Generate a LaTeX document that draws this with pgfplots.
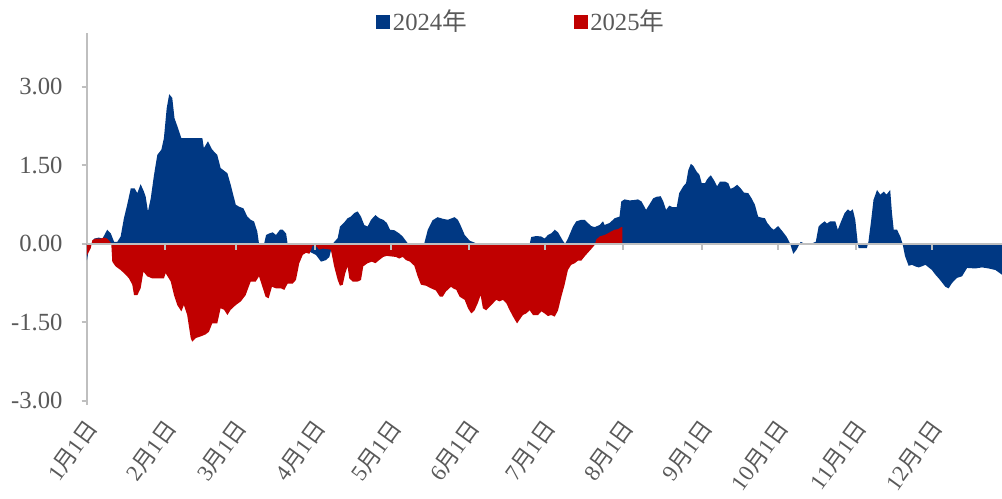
\documentclass[border=0pt]{standalone}
\usepackage{pgfplots}
\pgfplotsset{compat=1.18}
\usepackage{fontspec}
\setmainfont{Liberation Serif}
\newfontfamily\cjk{Noto Sans CJK SC}
\usetikzlibrary{calc}
\definecolor{b24}{RGB}{0,56,131}
\definecolor{r25}{RGB}{192,0,0}
\definecolor{axgray}{RGB}{191,191,191}
\definecolor{txt}{RGB}{89,89,89}
\begin{document}
\fontsize{18.5}{22}\selectfont
\begin{tikzpicture}
\begin{axis}[
  scale only axis, width=686.25pt, height=279pt,
  xmin=0, xmax=361.7, ymin=-3.08, ymax=4.03,
  axis y line*=left, axis x line*=bottom,
  x axis line style={draw=none},
  y axis line style={axgray, line width=1.5pt},
  ytick={-3,-1.5,0,1.5,3},
  tick align=outside,
  major tick length=4pt,
  major y tick style={axgray, line width=1.5pt},
  major x tick style={draw=none},
  every tick label/.append style={font=\fontsize{18.5}{22}\selectfont, text=txt},
  yticklabel style={/pgf/number format/fixed, /pgf/number format/fixed zerofill, /pgf/number format/precision=2, /pgf/number format/assume math mode=true, xshift=-8pt},
  xtick={0,31,59,90,120,151,181,212,243,273,304,334},
  xticklabels={1{\cjk 月}1{\cjk 日},2{\cjk 月}1{\cjk 日},3{\cjk 月}1{\cjk 日},4{\cjk 月}1{\cjk 日},5{\cjk 月}1{\cjk 日},6{\cjk 月}1{\cjk 日},7{\cjk 月}1{\cjk 日},8{\cjk 月}1{\cjk 日},9{\cjk 月}1{\cjk 日},10{\cjk 月}1{\cjk 日},11{\cjk 月}1{\cjk 日},12{\cjk 月}1{\cjk 日}},
  xticklabel style={rotate=54, anchor=east, font=\fontsize{17}{20}\selectfont, xshift=1pt, yshift=-9pt},
  legend style={draw=none, fill=none, at={(0.475,1)}, anchor=center, yshift=8.25pt,
    font=\fontsize{18.5}{22}\selectfont, text=txt,
    /tikz/every even column/.append style={column sep=78pt}},
  legend columns=2,
  legend image code/.code={\fill[#1] (0pt,-5.25pt) rectangle (10.5pt,5.25pt);},
]
\addplot[fill=b24, draw=none] coordinates {
(0,-0.31) (0.8,-0.08) (2.8,0.10) (4.7,0.12) (6.1,0.10) (8.0,0.27) (9.4,0.20) (10.7,0.04) (12,0.04) (13.3,0.14) (14.6,0.49) (15.9,0.75) (17.3,1.06) (18.8,1.06) (19.9,0.97) (21.2,1.14) (22.5,1.00) (23.2,0.90) (24.1,0.62) (25.2,0.87) (26.5,1.32) (27.8,1.70) (29.4,1.80) (30.4,2.02) (31.5,2.59) (32.5,2.86) (33.7,2.79) (34.6,2.40) (36,2.21) (37.3,2.02) (38.3,2.02) (45.6,2.02) (46.2,1.83) (47.8,1.96) (49.5,1.80) (51.5,1.70) (52.8,1.45) (55.5,1.35) (56.8,1.13) (58.8,0.75) (60.1,0.71) (61.8,0.68) (63.4,0.52) (64.7,0.46) (66,0.43) (67.3,0.24) (68,0) (70,0) (70.8,0.17) (72.1,0.20) (73.4,0.22) (74.7,0.17) (76.3,0.27) (77.3,0.27) (78.7,0.20) (79.3,0) (85,-0.03) (87.9,-0.15) (90.5,-0.21) (92.5,-0.34) (94.5,-0.31) (95.8,-0.25) (97.1,0) (99.1,0.11) (100,0.33) (101.7,0.41) (103,0.49) (104.3,0.52) (105.7,0.59) (107,0.62) (108.3,0.52) (109.6,0.36) (110.9,0.33) (112.3,0.46) (114,0.55) (115.5,0.49) (117.1,0.46) (118.5,0.40) (119.8,0.27) (121.5,0.26) (123.4,0.20) (124.8,0.14) (126.8,0.01) (133.3,0) (134.7,0.27) (136.6,0.45) (138.6,0.51) (140.6,0.48) (142.6,0.46) (145.3,0.51) (146.6,0.46) (147.9,0.33) (149.3,0.17) (151.3,0.06) (153.9,0.01) (175,0) (175.6,0.13) (177.6,0.15) (179.6,0.14) (180.9,0.10) (182.2,0.17) (183.5,0.20) (184.9,0.27) (186.2,0.22) (188.1,0.06) (189,0) (190.1,0.10) (192.1,0.33) (193.4,0.43) (195.4,0.46) (196.7,0.46) (198,0.40) (199.3,0.34) (200.7,0.32) (202.6,0.36) (204,0.43) (204.6,0.36) (206.6,0.40) (208.6,0.49) (210.5,0.52) (211.2,0.81) (212.5,0.85) (214.5,0.83) (216.6,0.84) (217.8,0.85) (219.2,0.81) (221,0.65) (222.3,0.75) (223.8,0.87) (225.2,0.90) (226.8,0.91) (227.8,0.81) (228.9,0.65) (230.2,0.73) (231.5,0.70) (233.1,0.70) (234.1,0.97) (235.7,1.10) (236.8,1.16) (237.7,1.41) (238.7,1.53) (239.7,1.49) (241,1.38) (242.1,1.32) (243,1.16) (244.3,1.16) (245.2,1.24) (246.6,1.31) (247.8,1.22) (249.1,1.10) (250.2,1.19) (252.2,1.19) (253.5,1.16) (254.4,1.05) (255.7,1.08) (257,1.13) (258.4,1.06) (259.7,0.98) (261.4,0.97) (262.7,0.87) (264,0.75) (265.3,0.52) (266.7,0.50) (268,0.49) (268.9,0.40) (270.6,0.30) (271.5,0.27) (273.2,0.34) (274.9,0.24) (276.5,0.14) (277.9,0.01) (279.2,-0.19) (280.5,-0.11) (282.1,0.04) (283.8,0) (286.6,0.01) (288.1,0.04) (289.2,0.33) (290.2,0.38) (291.6,0.43) (292.5,0.39) (293.8,0.43) (295.8,0.43) (296.8,0.27) (298.1,0.43) (299.5,0.59) (300.8,0.66) (301.7,0.62) (302.7,0.66) (303.7,0.46) (304.7,0) (305,-0.08) (308.3,-0.08) (308.9,0.04) (310,0.46) (310.9,0.84) (312.3,1.03) (313.6,0.94) (315,1.00) (316,0.94) (317.5,1.03) (318.2,0.59) (318.9,0.27) (320.2,0.27) (321.5,0.14) (322.4,0) (323.4,-0.24) (324.8,-0.42) (326.1,-0.40) (327.4,-0.43) (328.7,-0.45) (330,-0.43) (331.4,-0.40) (332.7,-0.45) (334,-0.50) (335.4,-0.59) (336.7,-0.66) (337.7,-0.72) (339.3,-0.82) (340.6,-0.85) (341.9,-0.75) (343.9,-0.65) (345.9,-0.62) (347.9,-0.46) (351.1,-0.47) (353.8,-0.45) (356.4,-0.47) (359.1,-0.50) (361.7,-0.59)
} \closedcycle;
\addlegendentry{2024{\cjk 年}}
\addplot[fill=r25, draw=none] coordinates {
(0,-0.22) (1.5,-0.08) (2.1,0.07) (3.4,0.10) (5.4,0.10) (6.7,0.12) (8.0,0.10) (9.1,0.04) (9.6,0) (10,-0.34) (11.3,-0.43) (13.3,-0.50) (15.3,-0.59) (16.6,-0.66) (17.9,-0.78) (18.6,-0.98) (19.9,-0.98) (21.2,-0.85) (22.3,-0.53) (23.8,-0.62) (25.8,-0.66) (27.8,-0.66) (30.4,-0.66) (31.1,-0.56) (33.1,-0.72) (34.4,-0.98) (35.7,-1.17) (37.3,-1.29) (38.3,-1.17) (39.6,-1.36) (41,-1.80) (41.6,-1.87) (43,-1.80) (44.9,-1.77) (46.9,-1.73) (48.2,-1.68) (49.5,-1.52) (51.5,-1.52) (52.8,-1.23) (54.2,-1.26) (55.5,-1.36) (56.8,-1.26) (58.8,-1.17) (60.8,-1.10) (62.7,-0.98) (64.7,-0.72) (66.7,-0.72) (68,-0.62) (70.6,-1.01) (71.8,-1.04) (73.1,-0.82) (74.7,-0.85) (76.7,-0.85) (78,-0.88) (79.3,-0.76) (81.3,-0.76) (82.6,-0.69) (83.9,-0.37) (85.3,-0.21) (86.6,-0.17) (87.9,-0.19) (89.2,-0.03) (90.5,-0.04) (91.8,-0.11) (93.2,-0.09) (96.4,-0.11) (97.7,-0.43) (99.1,-0.69) (100,-0.80) (101.1,-0.78) (102.1,-0.56) (103,-0.43) (103.7,-0.66) (105,-0.72) (107,-0.72) (108.3,-0.69) (109.2,-0.43) (110.9,-0.37) (112.6,-0.34) (114,-0.37) (115.5,-0.31) (117.1,-0.25) (118.5,-0.23) (120.2,-0.24) (122.1,-0.25) (123.4,-0.28) (124.8,-0.25) (126.1,-0.31) (127.7,-0.34) (129.4,-0.42) (130.7,-0.62) (132,-0.78) (134,-0.80) (136,-0.85) (137.9,-0.89) (139.5,-1.01) (140.6,-1.01) (141.9,-0.91) (143.9,-0.82) (144.7,-0.85) (146,-0.88) (147.3,-1.01) (149.3,-1.07) (150.6,-1.23) (151.9,-1.33) (153.2,-1.27) (154.5,-1.13) (155.6,-0.98) (156.5,-1.23) (157.8,-1.27) (159.8,-1.17) (161.8,-1.07) (163.1,-1.10) (164.4,-1.07) (165.7,-1.13) (167.1,-1.27) (168.4,-1.39) (170,-1.52) (171,-1.45) (172.3,-1.36) (173.6,-1.33) (175,-1.27) (176.3,-1.36) (178.3,-1.36) (179.6,-1.29) (180.9,-1.33) (182.2,-1.38) (183.5,-1.36) (184.9,-1.39) (186.2,-1.27) (187.5,-1.01) (188.8,-0.78) (190.1,-0.50) (191.4,-0.40) (192.8,-0.37) (194.1,-0.32) (195.4,-0.32) (196.7,-0.24) (198,-0.17) (199.3,-0.10) (200.7,-0.02) (201.3,0.08) (202.6,0.14) (204.6,0.17) (205.9,0.20) (207.3,0.24) (208.6,0.27) (209.9,0.28) (211.2,0.32) (211.6,0.32)
} \closedcycle;
\addlegendentry{2025{\cjk 年}}
\draw[axgray, line width=1.5pt] (axis cs:0,0) -- (axis cs:361.7,0);
\pgfplotsinvokeforeach{31,59,90,120,151,181,212,243,273,304,334}{
  \draw[axgray, line width=1.5pt] (axis cs:#1,0) -- ([yshift=-4.5pt]axis cs:#1,0);
}
\end{axis}
\pgfresetboundingbox
\path[use as bounding box] ($(current axis.south west)+(-65.25pt,-69.75pt)$) rectangle ($(current axis.north east)+(0pt,24.75pt)$);
\end{tikzpicture}
\end{document}
